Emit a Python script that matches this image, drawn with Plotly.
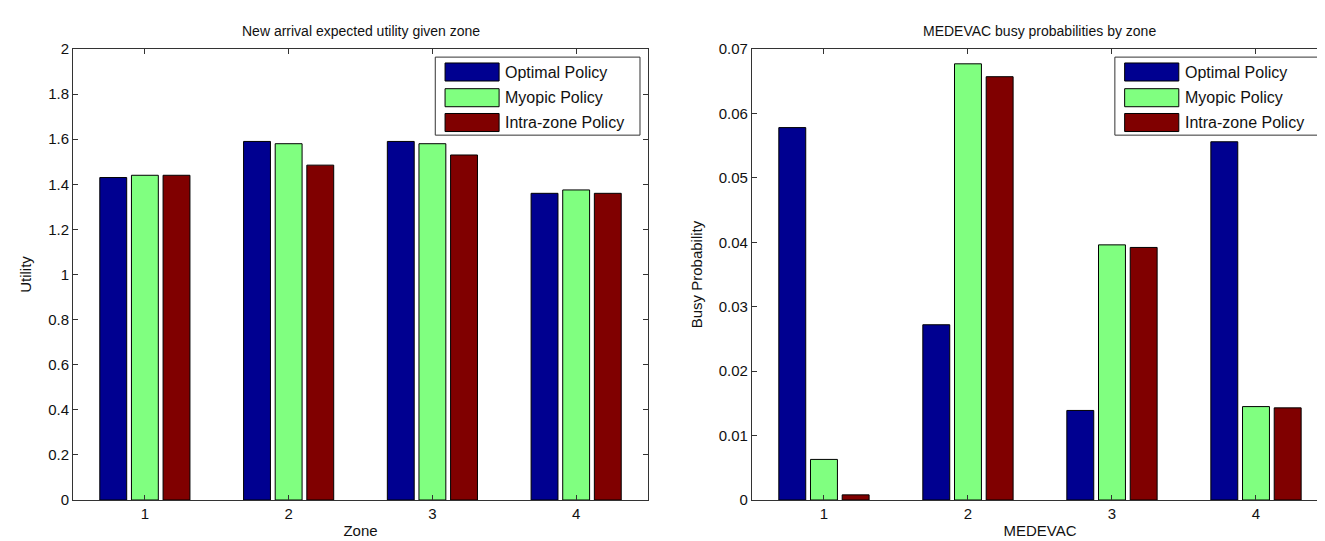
import plotly.graph_objects as go

# ---- data ----
zones = [1, 2, 3, 4]
policies = ["Optimal Policy", "Myopic Policy", "Intra-zone Policy"]
colors = ["#000090", "#80FF80", "#800000"]

utility_optimal = [1.43, 1.59, 1.59, 1.36]
utility_myopic = [1.44, 1.58, 1.58, 1.375]
utility_intra = [1.44, 1.485, 1.53, 1.36]

busy_optimal = [0.0578, 0.0272, 0.0139, 0.0556]
busy_myopic = [0.0063, 0.0677, 0.0396, 0.0145]
busy_intra = [0.0008, 0.0657, 0.0392, 0.0143]

left_title = "New arrival expected utility given zone"
right_title = "MEDEVAC busy probabilities by zone"

FONT = "Liberation Sans, Arial, sans-serif"

fig = go.Figure()

for name, col, vals in zip(policies, colors, [utility_optimal, utility_myopic, utility_intra]):
    fig.add_trace(go.Bar(x=zones, y=vals, name=name, marker=dict(color=col, line=dict(color="#000000", width=1)),
                         xaxis="x", yaxis="y", showlegend=False))
for name, col, vals in zip(policies, colors, [busy_optimal, busy_myopic, busy_intra]):
    fig.add_trace(go.Bar(x=zones, y=vals, name=name, marker=dict(color=col, line=dict(color="#000000", width=1)),
                         xaxis="x2", yaxis="y2", showlegend=False))

axis_common = dict(showline=True, linecolor="#333333", linewidth=1, mirror="ticks", ticks="inside",
                   ticklen=5, tickcolor="#333333", showgrid=False, zeroline=False,
                   tickfont=dict(family=FONT, size=15, color="#111111"))

fig.update_layout(
    width=1325, height=541,
    paper_bgcolor="white", plot_bgcolor="white",
    margin=dict(l=65, r=5, t=41, b=49),
    barmode="group", bargap=0.34, bargroupgap=0.15,
    font=dict(family=FONT, color="#111111"),
    xaxis=dict(domain=[0, 0.4582], range=[0.5, 4.5], tickvals=zones, ticktext=[str(z) for z in zones],
               title=dict(text="Zone", font=dict(size=15), standoff=4), **axis_common),
    yaxis=dict(domain=[0, 1], range=[0, 2], dtick=0.2, anchor="x",
               title=dict(text="Utility", font=dict(size=15), standoff=12), **axis_common),
    xaxis2=dict(domain=[0.541, 1.0], range=[0.5, 4.5], tickvals=zones, ticktext=[str(z) for z in zones],
                anchor="y2", title=dict(text="MEDEVAC", font=dict(size=15), standoff=4), **axis_common),
    yaxis2=dict(domain=[0, 1], range=[0, 0.07], dtick=0.01, anchor="x2",
                title=dict(text="Busy Probability", font=dict(size=15), standoff=12), **axis_common),
)

# titles
fig.add_annotation(text=left_title, xref="x domain", yref="y domain", x=0.5, y=1.0, yshift=28,
                   showarrow=False, font=dict(family=FONT, size=14, color="#111111"))
fig.add_annotation(text=right_title, xref="x2 domain", yref="y2 domain", x=0.5, y=1.0, yshift=28,
                   showarrow=False, font=dict(family=FONT, size=14, color="#111111"))

# custom MATLAB-style legends
def add_legend(xd, yd, box_x0, box_x1):
    fig.add_shape(type="rect", xref=xd, yref=yd, x0=box_x0, x1=box_x1, y0=0.809, y1=0.982,
                  line=dict(color="#333333", width=1), fillcolor="white", layer="above")
    rows = [0.949, 0.892, 0.837]
    for name, col, yc in zip(policies, colors, rows):
        fig.add_shape(type="rect", xref=xd, yref=yd, x0=0.647, x1=0.741, y0=yc - 0.02, y1=yc + 0.02,
                      line=dict(color="#000000", width=1), fillcolor=col, layer="above")
        fig.add_annotation(text=name, xref=xd, yref=yd, x=0.748, y=yc, xanchor="left", yanchor="middle",
                           showarrow=False, font=dict(family=FONT, size=16, color="#111111"))

add_legend("x domain", "y domain", 0.630, 0.986)
add_legend("x2 domain", "y2 domain", 0.630, 0.997)

fig.write_html("out.html")
